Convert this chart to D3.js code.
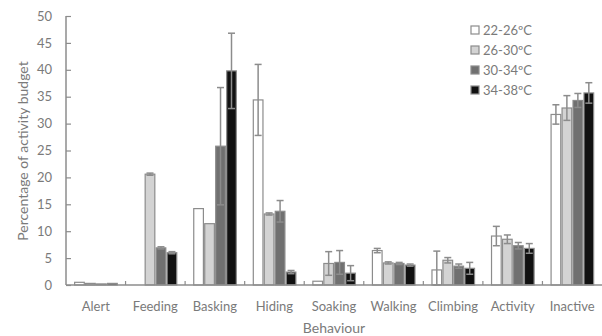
<!DOCTYPE html>
<html>
<head>
<meta charset="utf-8">
<script src="https://cdn.jsdelivr.net/npm/d3@7"></script>
<style>
  html, body { margin: 0; padding: 0; background: #fff; }
  svg { display: block; font-family: Lato, "Open Sans", sans-serif; }
</style>
</head>
<body>
<svg id="chart" width="602" height="336"></svg>
<script>
// Behaviour categories and temperature ranges
const categories = ["Alert", "Feeding", "Basking", "Hiding", "Soaking", "Walking", "Climbing", "Activity", "Inactive"];
const seriesNames = ["22-26ºC", "26-30ºC", "30-34ºC", "34-38ºC"];

// Mean percentage of activity budget per temperature range
const t22_26 = [0.5, 0.0, 14.2, 34.4, 0.7, 6.4, 2.8, 9.1, 31.7];
const t26_30 = [0.3, 20.6, 11.4, 13.2, 4.0, 4.1, 4.6, 8.5, 32.9];
const t30_34 = [0.2, 6.9, 25.8, 13.7, 4.2, 4.0, 3.5, 7.3, 34.3];
const t34_38 = [0.3, 6.0, 39.8, 2.4, 2.2, 3.7, 3.1, 6.8, 35.7];

// Standard errors
const e22_26 = [0.1, 0.0, 0.0, 6.6, 0.1, 0.4, 3.5, 1.8, 1.8];
const e26_30 = [0.05, 0.2, 0.0, 0.2, 2.2, 0.2, 0.5, 0.8, 2.3];
const e30_34 = [0.05, 0.2, 10.9, 2.0, 2.2, 0.2, 0.4, 0.6, 1.3];
const e34_38 = [0.05, 0.2, 7.0, 0.3, 1.4, 0.2, 1.1, 0.9, 1.9];

const yTicks = [0, 5, 10, 15, 20, 25, 30, 35, 40, 45, 50];

const means = [t22_26, t26_30, t30_34, t34_38];
const errors = [e22_26, e26_30, e30_34, e34_38];
const fills = ["#ffffff", "#d3d3d3", "#707070", "#111111"];
const axisGrey = "#8c8c8c";
const textGrey = "#7a7a7a";

const svg = d3.select("#chart");
const plotLeft = 66, plotRight = 602, plotTop = 16, plotBottom = 285;

const x0 = d3.scaleBand().domain(categories).range([plotLeft, plotRight]).padding(0);
const x1 = d3.scaleBand().domain(seriesNames)
  .range([x0.bandwidth() * 0.145, x0.bandwidth() * 0.86]).paddingInner(0.12);
const y = d3.scaleLinear().domain([0, 50]).range([plotBottom, plotTop]);

// Bars
const rows = [];
categories.forEach((c, i) => {
  seriesNames.forEach((s, j) => {
    rows.push({ c, s, j, v: means[j][i], e: errors[j][i] });
  });
});

const g = svg.append("g");
g.selectAll("rect.bar")
  .data(rows.filter(d => d.v > 0))
  .join("rect")
  .attr("class", "bar")
  .attr("x", d => x0(d.c) + x1(d.s))
  .attr("y", d => y(d.v))
  .attr("width", x1.bandwidth())
  .attr("height", d => y(0) - y(d.v))
  .attr("fill", d => fills[d.j])
  .attr("stroke", axisGrey)
  .attr("stroke-width", 1.2);

// Error bars (both directions, capped)
const eb = g.selectAll("g.err")
  .data(rows.filter(d => d.v > 0 && d.e > 0.15))
  .join("g")
  .attr("class", "err")
  .attr("stroke", axisGrey)
  .attr("stroke-width", 1.5);
const cx = d => x0(d.c) + x1(d.s) + x1.bandwidth() / 2;
eb.append("line")
  .attr("x1", cx).attr("x2", cx)
  .attr("y1", d => y(d.v + d.e)).attr("y2", d => y(Math.max(0, d.v - d.e)));
eb.append("line")
  .attr("x1", d => cx(d) - 3.5).attr("x2", d => cx(d) + 3.5)
  .attr("y1", d => y(d.v + d.e)).attr("y2", d => y(d.v + d.e));
eb.append("line")
  .attr("x1", d => cx(d) - 3.5).attr("x2", d => cx(d) + 3.5)
  .attr("y1", d => y(Math.max(0, d.v - d.e))).attr("y2", d => y(Math.max(0, d.v - d.e)));

// Y axis
const yAxis = svg.append("g")
  .attr("transform", `translate(${plotLeft},0)`)
  .call(d3.axisRight(y).tickValues(yTicks).tickSize(5).tickFormat(""));
yAxis.select(".domain").attr("stroke", axisGrey).attr("stroke-width", 1.5)
  .attr("d", `M0,${plotTop}H0V${plotBottom}`);
yAxis.selectAll(".tick line").attr("stroke", axisGrey).attr("stroke-width", 1.2);

svg.append("g").selectAll("text")
  .data(yTicks)
  .join("text")
  .attr("x", 52)
  .attr("y", d => y(d))
  .attr("dy", "0.36em")
  .attr("text-anchor", "end")
  .attr("fill", textGrey)
  .attr("font-size", 13)
  .text(d => d);

// X axis with small inward ticks between categories
svg.append("line")
  .attr("x1", plotLeft).attr("x2", plotRight)
  .attr("y1", plotBottom).attr("y2", plotBottom)
  .attr("stroke", axisGrey).attr("stroke-width", 1.5);
svg.append("g").selectAll("line")
  .data(categories.slice(1))
  .join("line")
  .attr("x1", d => x0(d)).attr("x2", d => x0(d))
  .attr("y1", plotBottom).attr("y2", plotBottom - 4)
  .attr("stroke", axisGrey).attr("stroke-width", 1.2);

svg.append("g").selectAll("text")
  .data(categories)
  .join("text")
  .attr("x", d => x0(d) + x0.bandwidth() / 2)
  .attr("y", 306)
  .attr("dy", "0.36em")
  .attr("text-anchor", "middle")
  .attr("fill", textGrey)
  .attr("font-size", 13)
  .text(d => d);

// Axis titles
svg.append("text")
  .attr("x", 334).attr("y", 328).attr("dy", "0.36em")
  .attr("text-anchor", "middle")
  .attr("fill", textGrey).attr("font-size", 14)
  .text("Behaviour");
svg.append("text")
  .attr("transform", "translate(23,151) rotate(-90)")
  .attr("dy", "0.36em")
  .attr("text-anchor", "middle")
  .attr("fill", textGrey).attr("font-size", 14)
  .text("Percentage of activity budget");

// Legend
const lg = svg.append("g").selectAll("g")
  .data(seriesNames)
  .join("g")
  .attr("transform", (d, i) => `translate(471,${30 + i * 20})`);
lg.append("rect")
  .attr("x", 0).attr("y", -4).attr("width", 8).attr("height", 8)
  .attr("fill", (d, i) => fills[i])
  .attr("stroke", axisGrey).attr("stroke-width", 1.2);
lg.append("text")
  .attr("x", 12).attr("y", 0).attr("dy", "0.36em")
  .attr("fill", textGrey).attr("font-size", 13)
  .text(d => d);
</script>
</body>
</html>
